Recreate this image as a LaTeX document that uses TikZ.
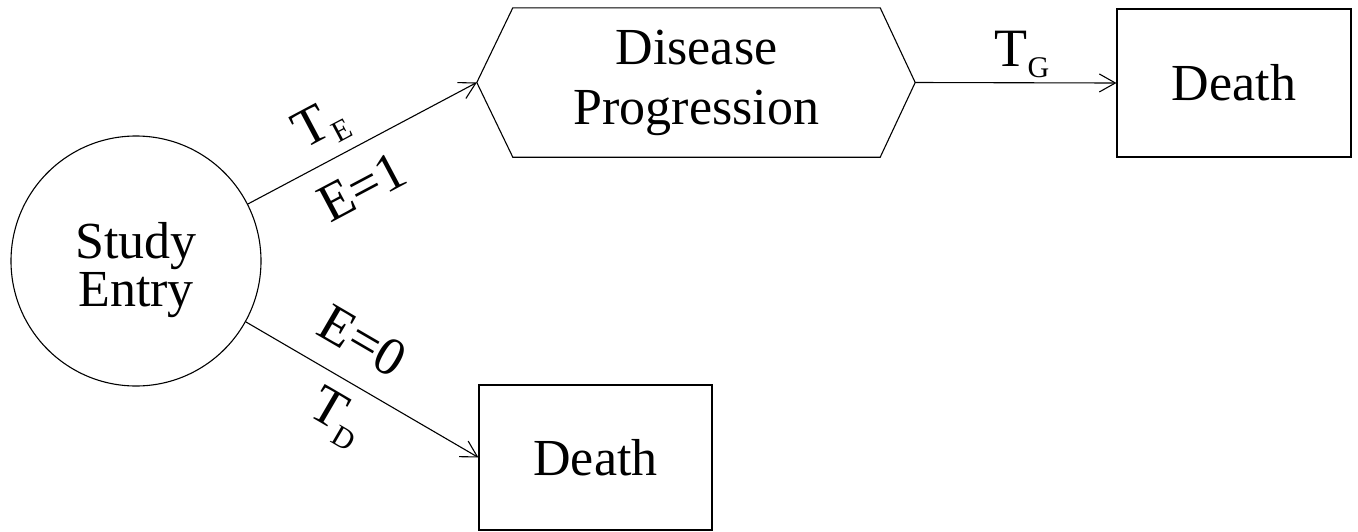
\documentclass[tikz,border=0pt]{standalone}
\usepackage{fontspec}
\setmainfont{Liberation Serif}
\usetikzlibrary{arrows.meta}
\newcommand{\Tsub}[1]{T\raisebox{-11pt}{\fontsize{30}{30}\selectfont #1}}
\begin{document}
\begin{tikzpicture}[x=1pt,y=-1pt,
  txt/.style={font=\fontsize{52}{48}\selectfont, align=center},
  line/.style={line width=1.1pt},
  arr/.style={line, -{Straight Barb[length=16pt,width=18pt,line width=1.1pt]}},
  boxnode/.style={draw, line width=1.1pt, inner sep=0pt, txt},
  lab/.style={font=\fontsize{54}{54}\selectfont}]
\useasboundingbox (0,0) rectangle (1358,531);
% nodes
\node[circle, draw, line width=1.1pt, inner sep=0pt, minimum size=250pt,
      label={[txt, yshift=-9pt]center:Study\\Entry}] (se) at (136,261) {};
\node[txt, font=\fontsize{52}{60}\selectfont, minimum width=367pt, minimum height=149pt, inner sep=0pt] (dp) at (696.5,82.5) {Disease\\Progression};
\coordinate (dpL) at ([xshift=-36pt]dp.west);
\coordinate (dpR) at ([xshift=35pt]dp.east);
\draw[line] (dpL) -- (dp.north west) -- (dp.north east) -- (dpR) -- (dp.south east) -- (dp.south west) -- cycle;
\node[boxnode, minimum width=234pt, minimum height=148pt] (d1) at (1234,83) {Death};
\node[boxnode, minimum width=233pt, minimum height=145pt] (d2) at (595.5,457.5) {Death};
% connectors
\draw[arr] (se.27.6) -- node[lab, sloped, above, pos=0.39, inner sep=10pt] {\Tsub{E}}
                        node[lab, sloped, below, pos=0.42, inner sep=20pt] {E=1} (dpL);
\draw[arr] (se.-29) -- node[lab, sloped, above, pos=0.41, inner sep=24pt] {E=0}
                       node[lab, sloped, below, pos=0.47, inner sep=14pt] {\Tsub{D}} (d2.west);
\draw[arr] (dpR) -- node[lab, above, pos=0.53, inner sep=4pt] {\Tsub{G}} (d1.west);
\end{tikzpicture}
\end{document}
